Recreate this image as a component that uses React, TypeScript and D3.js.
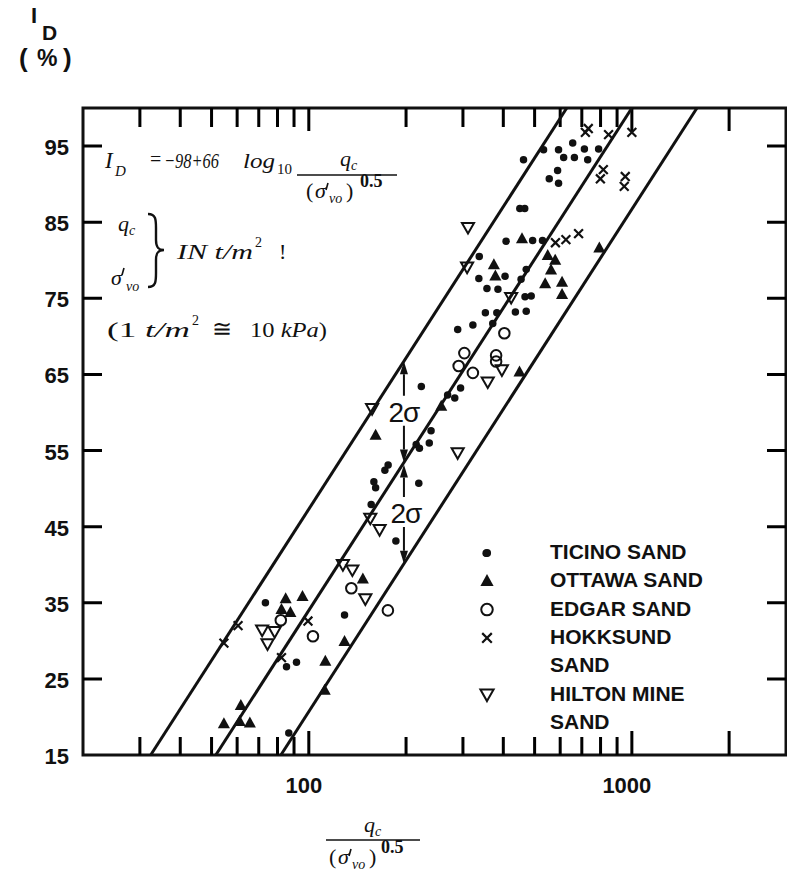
import React from "react";
import * as d3 from "d3";

// values: [qc/(sigma'vo)^0.5, ID %]
const ticino = [
  [462, 93.2], [533, 94.5], [593, 94.5], [656, 95.4], [664, 93.5], [713, 94.6], [615, 93.5],
  [730, 93.2], [789, 94.6], [589, 91.8], [555, 90.7], [593, 90.1], [450, 86.8], [466, 86.8],
  [408, 82.5], [493, 82.6], [529, 82.6], [337, 80.5], [471, 78.8], [405, 77.9], [336, 77.6],
  [454, 77.5], [356, 76.3], [385, 76.2], [467, 75.2], [488, 75.3], [352, 73.1], [382, 73.1],
  [436, 73.2], [471, 73.3], [289, 70.9], [322, 71.5], [371, 71.7], [223, 63.4], [295, 63.2],
  [283, 61.9], [269, 62.3], [239, 57.6], [236, 56.0], [215, 55.8], [220, 55.3], [176, 53.1],
  [172, 52.4], [159, 50.9], [161, 50.1], [219, 50.7], [156, 47.9], [186, 43.1], [354, 41.5],
  [129, 33.4], [73.4, 35.0], [85.3, 26.6], [91.6, 27.2], [86.7, 17.9],
];
const ottawa = [
  [457, 82.8], [793, 81.6], [374, 79.4], [378, 77.9], [549, 80.6], [579, 80.0], [562, 78.7],
  [539, 76.9], [608, 77.1], [608, 75.5], [449, 65.3], [257, 60.8], [161, 57.0], [84.8, 35.5],
  [95.6, 35.8], [82.3, 34.1], [87.7, 33.7], [147, 38.1], [129, 29.9], [112.5, 27.3], [112, 23.5],
  [61.6, 21.5], [54.6, 19.1], [61.1, 19.4], [65.7, 19.2],
];
const edgar = [
  [403, 70.4], [303, 67.8], [291, 66.1], [322, 65.2], [380, 67.5], [380, 66.7],
  [81.9, 32.7], [103, 30.6], [135.4, 36.9], [175.7, 34.0],
];
const hokksund = [
  [718, 96.8], [733, 97.3], [847, 96.5], [1000, 96.8], [816, 91.9], [799, 90.7], [954, 91.0],
  [947, 89.7], [580, 82.3], [625, 82.7], [684, 83.5], [54.6, 29.7], [60.4, 32.0], [82.3, 27.8],
  [99.4, 32.6],
];
const hilton = [
  [311, 84.3], [309, 79.1], [423, 75.1], [396, 65.6], [358, 64.0], [157, 60.5], [289, 54.7],
  [155, 46.1], [165.6, 44.6], [127.5, 40.0], [136.4, 39.3], [149.6, 35.5], [71.7, 31.4],
  [78.4, 31.2], [74.5, 29.6],
];

const legendLabels = [["TICINO SAND"], ["OTTAWA SAND"], ["EDGAR SAND"], ["HOKKSUND", "SAND"], ["HILTON MINE", "SAND"]];
const markerKinds = ["dot", "tri", "circle", "cross", "triDown"];
const allSeries = [ticino, ottawa, edgar, hokksund, hilton];

const xMinorTicks = [30, 40, 50, 60, 70, 80, 90, 200, 300, 400, 500, 600, 700, 800, 900];
const xMajorTicks = [100, 1000, 2000];
const xTickLabels = [100, 1000];
const yTicks = [15, 25, 35, 45, 55, 65, 75, 85, 95];

// ID = -98 + 66 log10(q), band of +/- 2 sigma
const fitA = -98;
const fitB = 66;
const twoSigma = 13.3;
const arrowQ = 197;

const W = 787;
const H = 877;
const ink = "#111";
const sans = "'Liberation Sans', Arial, sans-serif";
const serif = "'Liberation Serif', 'Times New Roman', serif";

const x = d3.scaleLog().domain([20, 3000]).range([83, 786]);
const y = d3.scaleLinear().domain([15, 100]).range([755, 108]);

const fit = (q, off) => fitA + fitB * Math.log10(q) + off;
const qAt = (id, off) => Math.pow(10, (id - fitA - off) / fitB);

function Marker({ kind, cx, cy, s }) {
  const t = `translate(${cx},${cy})`;
  if (kind === "dot") return <circle cx={cx} cy={cy} r={s * 0.34} fill={ink} />;
  if (kind === "tri")
    return <path transform={t} d={`M0,${-s * 0.6}L${s * 0.55},${s * 0.4}L${-s * 0.55},${s * 0.4}Z`} fill={ink} />;
  if (kind === "circle") return <circle cx={cx} cy={cy} r={s * 0.48} fill="none" stroke={ink} strokeWidth={2} />;
  if (kind === "cross") {
    const h = s * 0.4;
    return <path transform={t} d={`M${-h},${-h}L${h},${h}M${-h},${h}L${h},${-h}`} fill="none" stroke={ink} strokeWidth={2.2} />;
  }
  return (
    <path transform={t} d={`M0,${s * 0.55}L${s * 0.55},${-s * 0.42}L${-s * 0.55},${-s * 0.42}Z`}
      fill="none" stroke={ink} strokeWidth={2} />
  );
}

// small slanted stroke used as the prime on sigma
const Prime = ({ px, py }) => (
  <path d={`M${px + 2},${py - 6}L${px},${py + 1}`} stroke={ink} strokeWidth={1.6} fill="none" />
);

function Arrow({ xp, y1, y2, gapTop, gapBottom }) {
  // head at y1 pointing up, head at y2 pointing down
  const hw = 4, hl = 13;
  return (
    <g>
      <path d={`M${xp},${y1 + hl}L${xp},${gapTop}M${xp},${gapBottom}L${xp},${y2 - hl}`} stroke={ink} strokeWidth={2} fill="none" />
      <path d={`M${xp},${y1}L${xp + hw},${y1 + hl}L${xp - hw},${y1 + hl}Z`} fill={ink} />
      <path d={`M${xp},${y2}L${xp + hw},${y2 - hl}L${xp - hw},${y2 - hl}Z`} fill={ink} />
    </g>
  );
}

export default function App() {
  const [x0, x1] = x.range();
  const [yB, yT] = y.range();
  const line = d3.line().x((d) => x(d[0])).y((d) => y(d[1]));
  const fitLines = [twoSigma, 0, -twoSigma].map((off) =>
    line([[qAt(15, off), 15], [qAt(100, off), 100]])
  );

  // tick marks, inward from all four sides
  const tickPath = d3.path();
  xMinorTicks.concat(xMajorTicks).forEach((v) => {
    const xp = x(v);
    const major = xMajorTicks.includes(v);
    tickPath.moveTo(xp, yB);
    tickPath.lineTo(xp, yB - (major ? 24 : 18));
    tickPath.moveTo(xp, yT);
    tickPath.lineTo(xp, yT + (major ? 23 : 19));
  });
  yTicks.slice(1).forEach((v) => {
    const yp = y(v);
    tickPath.moveTo(x0, yp);
    tickPath.lineTo(x0 + 19, yp);
    tickPath.moveTo(x1, yp);
    tickPath.lineTo(x1 - 19, yp);
  });

  const ax = x(arrowQ);
  const yUp = y(fit(arrowQ, twoSigma));
  const yMid = y(fit(arrowQ, 0));
  const yLow = y(fit(arrowQ, -twoSigma));
  const c1 = (yUp + yMid) / 2;
  const c2 = (yMid + yLow) / 2;

  let row = 0;
  const legendRows = legendLabels.map((lines, i) => {
    const base = 559 + row * 28.3;
    row += lines.length;
    return { lines, base, kind: markerKinds[i] };
  });

  return (
    <svg width={W} height={H} style={{ position: "absolute", left: 0, top: 0, background: "#fff" }}>
      <rect width={W} height={H} fill="#fff" />

      {/* y axis title */}
      <g fontFamily={sans} fontWeight="bold" fill={ink}>
        <text x={31} y={23} fontSize={22}>I</text>
        <text x={42} y={40} fontSize={21}>D</text>
        <text x={19} y={67} fontSize={26}>(</text>
        <text x={37} y={66} fontSize={23}>%</text>
        <text x={63} y={67} fontSize={26}>)</text>
      </g>

      {/* frame and ticks */}
      <rect x={x0} y={yT} width={x1 - x0} height={yB - yT} fill="none" stroke={ink} strokeWidth={3} />
      <path d={tickPath.toString()} fill="none" stroke="#000" strokeWidth={3} />

      {/* tick labels */}
      <g fontFamily={sans} fontWeight="bold" fontSize={22} fill={ink}>
        {yTicks.map((v) => (
          <text key={v} x={69} y={y(v) + 9} textAnchor="end">{v}</text>
        ))}
        {xTickLabels.map((v) => (
          <text key={v} x={x(v) - 5} y={793} textAnchor="middle">{v}</text>
        ))}
      </g>

      {/* fitted line and 2 sigma band */}
      {fitLines.map((d, i) => (
        <path key={i} d={d} fill="none" stroke={ink} strokeWidth={3} />
      ))}

      {/* 2 sigma arrows */}
      <Arrow xp={ax} y1={yUp} y2={yMid} gapTop={c1 - 16} gapBottom={c1 + 14} />
      <Arrow xp={ax} y1={yMid + 2} y2={yLow} gapTop={c2 - 16} gapBottom={c2 + 14} />
      <g fontFamily={sans} fontSize={28} fill={ink} textAnchor="middle">
        <text x={ax} y={c1 + 10} letterSpacing={-1}>2σ</text>
        <text x={ax + 2} y={c2 + 10} letterSpacing={-1}>2σ</text>
      </g>

      {/* data points */}
      {allSeries.map((data, si) =>
        data.map((d, i) => (
          <Marker key={si + "-" + i} kind={markerKinds[si]} cx={x(d[0])} cy={y(d[1])} s={11} />
        ))
      )}

      {/* equation block */}
      <g fontFamily={serif} fill={ink} fontStyle="italic">
        <text x={105} y={168} fontSize={23}>I</text>
        <text x={115} y={176} fontSize={15}>D</text>
        <text x={150} y={166} fontSize={20} fontStyle="normal">=</text>
        <text x={164} y={168} fontSize={22} textLength={55} lengthAdjust="spacingAndGlyphs">−98+66</text>
        <text x={243} y={168} fontSize={22} textLength={32} lengthAdjust="spacingAndGlyphs">log</text>
        <text x={277} y={174} fontSize={15} fontStyle="normal">10</text>
        <text x={340} y={166} fontSize={22}>q</text>
        <text x={351} y={170} fontSize={14}>c</text>
        <line x1={297} x2={397} y1={175} y2={175} stroke={ink} strokeWidth={1.6} />
        <text x={306} y={198} fontSize={22} fontStyle="normal">(</text>
        <text x={315} y={198} fontSize={22}>σ</text>
        <text x={329} y={203} fontSize={14}>vo</text>
        <text x={346} y={198} fontSize={22} fontStyle="normal">)</text>
        <text x={360} y={187} fontSize={18} fontStyle="normal" fontWeight="bold">0.5</text>

        <text x={118} y={231} fontSize={22}>q</text>
        <text x={129} y={235} fontSize={14}>c</text>
        <text x={111} y={285} fontSize={22}>σ</text>
        <text x={126} y={291} fontSize={14}>vo</text>
        <path d="M148,214 C156,214 156,220 156,228 L156,240 C156,247 158,250 164,250 C158,250 156,253 156,260 L156,273 C156,281 156,287 148,287"
          fill="none" stroke={ink} strokeWidth={2.4} />
        <text x={177} y={259} fontSize={22} textLength={76} lengthAdjust="spacingAndGlyphs">IN t/m</text>
        <text x={255} y={247} fontSize={14} fontStyle="normal">2</text>
        <text x={279} y={259} fontSize={22} fontStyle="normal">!</text>

        <text x={107} y={337} fontSize={22} textLength={83} lengthAdjust="spacingAndGlyphs">
          <tspan fontStyle="normal">(1 </tspan>t/m
        </text>
        <text x={192} y={325} fontSize={14} fontStyle="normal">2</text>
        <text x={212} y={337} fontSize={24} fontStyle="normal">≅</text>
        <text x={250} y={337} fontSize={22} textLength={77} lengthAdjust="spacingAndGlyphs">
          <tspan fontStyle="normal">10 </tspan>kPa<tspan fontStyle="normal">)</tspan>
        </text>
      </g>
      <Prime px={326} py={189} />
      <Prime px={122} py={274} />

      {/* legend */}
      <g fontFamily={sans} fontWeight="bold" fontSize={21} fill={ink}>
        {legendRows.map((r) => (
          <g key={r.lines[0]}>
            <Marker kind={r.kind} cx={487} cy={r.base - 6} s={12} />
            {r.lines.map((t, j) => (
              <text key={j} x={550} y={r.base + j * 28.3}>{t}</text>
            ))}
          </g>
        ))}
      </g>

      {/* x axis title */}
      <g fontFamily={serif} fill={ink} fontStyle="italic">
        <text x={364} y={832} fontSize={22}>q</text>
        <text x={375} y={836} fontSize={14}>c</text>
        <line x1={326} x2={420} y1={840} y2={840} stroke={ink} strokeWidth={1.6} />
        <text x={329} y={864} fontSize={22} fontStyle="normal">(</text>
        <text x={338} y={864} fontSize={22}>σ</text>
        <text x={352} y={869} fontSize={14}>vo</text>
        <text x={369} y={864} fontSize={22} fontStyle="normal">)</text>
        <text x={381} y={853} fontSize={18} fontStyle="normal" fontWeight="bold">0.5</text>
      </g>
      <Prime px={349} py={855} />
    </svg>
  );
}
